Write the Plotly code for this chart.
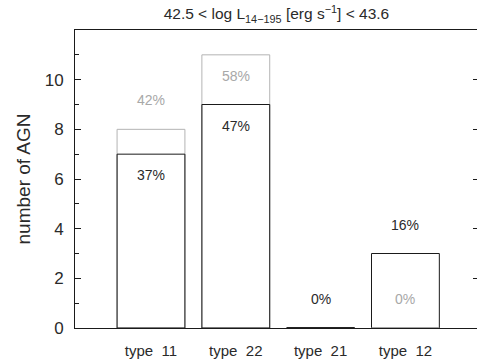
import plotly.graph_objects as go

categories = ["type  11", "type  22", "type  21", "type  12"]
total_counts = [8, 11, 0, 0]          # grey bars
sub_counts = [7, 9, 0, 3]             # black bars
grey_labels = ["42%", "58%", "", "0%"]
grey_label_inside = [False, True, False, False]
black_labels = ["37%", "47%", "0%", "16%"]
black_label_inside = [True, True, False, False]
y_tick_vals = [0, 2, 4, 6, 8, 10]

BLACK = "#1a1a1a"
TEXT = "#2a2a2a"
GREY = "#b4b4b4"
FONT = "Liberation Sans"
BAR_W = 0.8

xpos = list(range(len(categories)))

fig = go.Figure()

# grey (total) bars
fig.add_trace(go.Bar(x=xpos, y=total_counts, width=BAR_W,
                     marker=dict(color="rgba(0,0,0,0)", line=dict(color=GREY, width=1)),
                     showlegend=False, hoverinfo="skip"))
# black (subset) bars
fig.add_trace(go.Bar(x=xpos, y=sub_counts, width=BAR_W,
                     marker=dict(color="rgba(0,0,0,0)", line=dict(color=BLACK, width=1)),
                     showlegend=False, hoverinfo="skip"))

# zero-height bars drawn as flat segments
for i, (t, s) in enumerate(zip(total_counts, sub_counts)):
    if s == 0:
        fig.add_trace(go.Scatter(x=[xpos[i] - BAR_W / 2, xpos[i] + BAR_W / 2], y=[0, 0],
                                 mode="lines", line=dict(color=BLACK, width=1.5),
                                 showlegend=False, hoverinfo="skip", cliponaxis=False))
    if t == 0 and s > 0:
        fig.add_trace(go.Scatter(x=[xpos[i] - BAR_W / 2, xpos[i] + BAR_W / 2], y=[0, 0],
                                 mode="lines", line=dict(color=GREY, width=1.5),
                                 showlegend=False, hoverinfo="skip", cliponaxis=False))

# percentage labels
for i in xpos:
    if grey_labels[i]:
        fig.add_annotation(x=xpos[i], y=total_counts[i], text=grey_labels[i], showarrow=False,
                           yshift=-21 if grey_label_inside[i] else 29,
                           font=dict(family=FONT, size=14, color="#a8a8a8"))
    if black_labels[i]:
        fig.add_annotation(x=xpos[i], y=sub_counts[i], text=black_labels[i], showarrow=False,
                           yshift=-21 if black_label_inside[i] else 29,
                           font=dict(family=FONT, size=14, color=TEXT))

# invisible trace for right-side tick axis
fig.add_trace(go.Scatter(x=[0], y=[0], yaxis="y2", mode="markers",
                         marker=dict(opacity=0), showlegend=False, hoverinfo="skip"))

fig.update_layout(
    width=477, height=361,
    margin=dict(l=75, r=0, t=30, b=33),
    paper_bgcolor="white", plot_bgcolor="white",
    barmode="overlay",
    font=dict(family=FONT, color=TEXT),
    title=dict(text="42.5 < log L<sub>14−195</sub> [erg s<sup>−1</sup>] < 43.6",
               x=0.5795, xanchor="center", y=1 - 14 / 361, yanchor="middle",
               yref="container", xref="container",
               font=dict(family=FONT, size=15.5, color=TEXT)),
    xaxis=dict(range=[-0.896, 3.844], tickvals=xpos, ticktext=categories,
               ticks="", showline=True, mirror=True, linecolor=BLACK, linewidth=1,
               showgrid=False, zeroline=False, ticklabelstandoff=9,
               tickfont=dict(family=FONT, size=15, color=TEXT)),
    yaxis=dict(range=[0, 12], tickvals=y_tick_vals, ticks="inside", ticklen=6,
               tickcolor=BLACK, showline=True, linecolor=BLACK, linewidth=1,
               showgrid=False, zeroline=False, ticklabelstandoff=7,
               minor=dict(dtick=1, ticks="inside", ticklen=4, tickcolor=BLACK),
               tickfont=dict(family=FONT, size=17, color=TEXT),
               title=dict(text="number of AGN", standoff=9,
                          font=dict(family=FONT, size=19, color=TEXT))),
    yaxis2=dict(range=[0, 12], overlaying="y", side="right", tickvals=y_tick_vals,
                ticks="inside", ticklen=4, tickcolor=BLACK, showticklabels=False,
                showline=False, showgrid=False, zeroline=False),
)

fig.write_html("out.html")
